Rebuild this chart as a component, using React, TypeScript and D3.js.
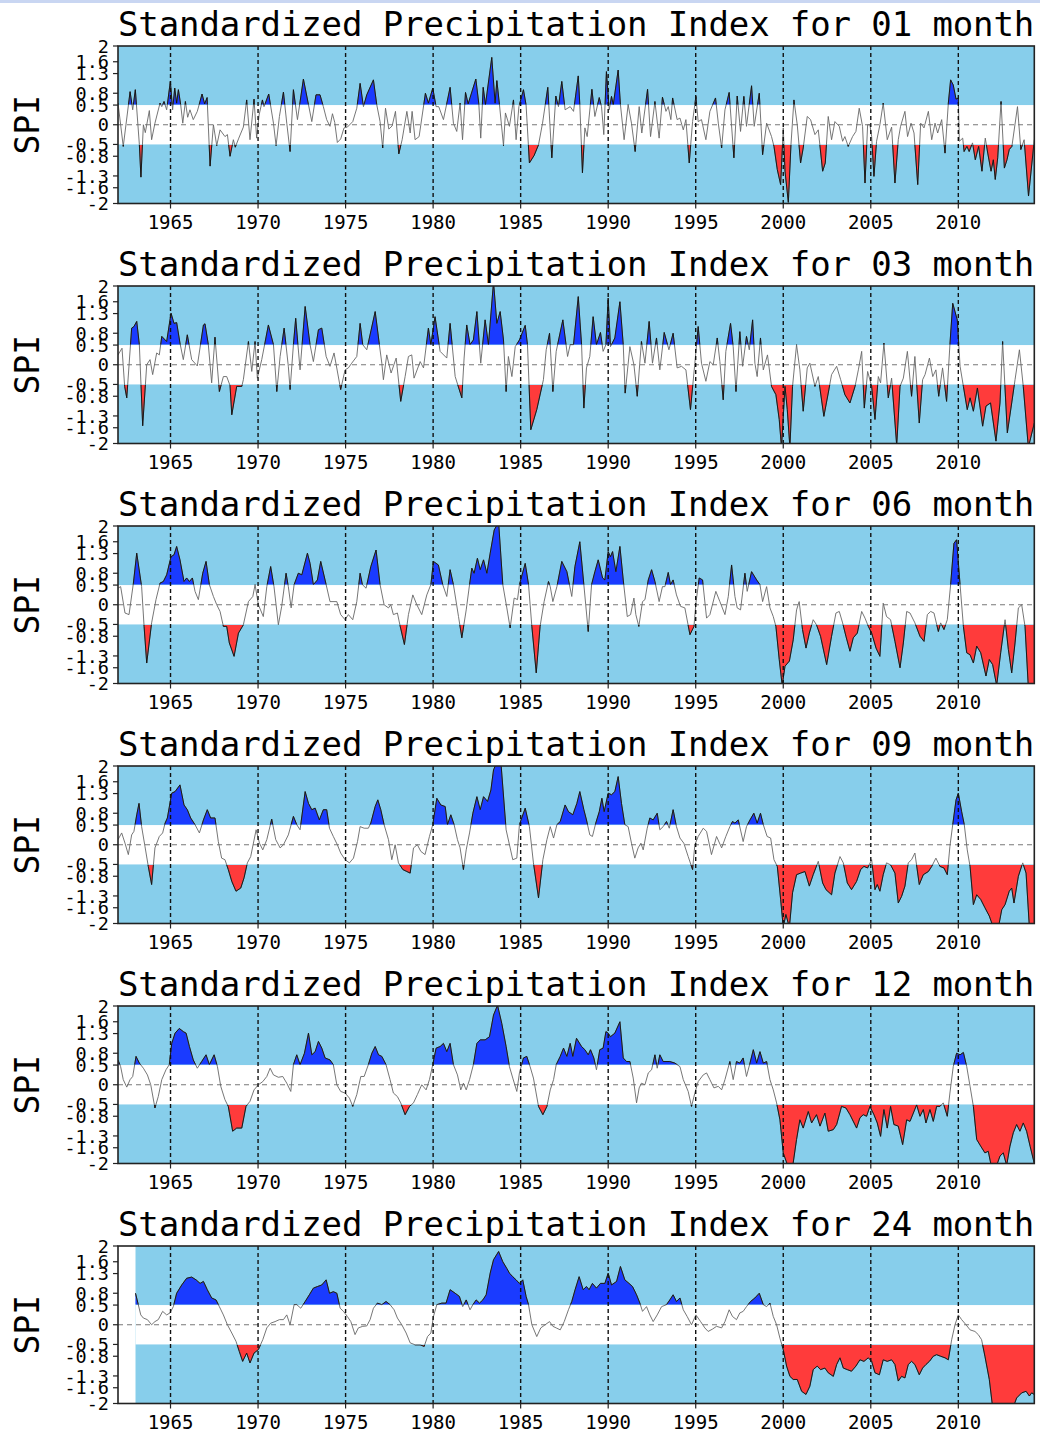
import React from "react";
import * as d3 from "d3";

// SPI timescales, one panel each
const timescales = ["01", "03", "06", "09", "12", "24"];
const yTicks = [2, 1.6, 1.3, 0.8, 0.5, 0, -0.5, -0.8, -1.3, -1.6, -2];
const xTicks = [1965, 1970, 1975, 1980, 1985, 1990, 1995, 2000, 2005, 2010];

type Pt = [number, number];

const spi01: Pt[] = [
  [1962.00,0.55],[1962.30,-0.55],[1962.69,0.84],[1962.84,0.38],[1962.99,0.89],[1963.22,-0.5],[1963.31,-1.33],[1963.45,0],[1963.56,-0.2],[1963.79,0.36],[1963.92,-0.38],[1964.11,0.04],[1964.40,0.55],[1964.50,0.46],[1964.63,0.59],[1964.78,0.38],[1964.99,1.1],[1965.12,0.38],[1965.24,0.93],[1965.35,0.55],[1965.45,0.89],[1965.58,0.51],[1965.70,0.04],[1965.85,0.59],[1965.98,0.19],[1966.11,0.38],[1966.30,0.13],[1966.53,0.34],[1966.80,0.78],[1966.95,0.53],[1967.09,0.69],[1967.26,-1.05],[1967.45,0],[1967.64,-0.53],[1967.83,-0.13],[1968.11,-0.3],[1968.25,-0.25],[1968.40,-0.8],[1968.59,-0.38],[1968.70,-0.57],[1968.90,-0.34],[1969.16,-0.06],[1969.35,0.63],[1969.54,-0.38],[1969.77,0.65],[1969.92,-0.34],[1970.06,0.25],[1970.25,0.63],[1970.34,0.46],[1970.61,0.78],[1970.88,0.04],[1971.03,-0.53],[1971.22,0.21],[1971.45,0.83],[1971.64,0.04],[1971.83,-0.68],[1972.02,0.89],[1972.25,0.13],[1972.59,1.16],[1972.88,0.51],[1973.07,0.08],[1973.31,0.76],[1973.54,0.76],[1973.73,0.46],[1973.92,0.13],[1974.11,-0.04],[1974.25,0.28],[1974.38,0.06],[1974.53,-0.45],[1974.72,-0.36],[1974.91,-0.08],[1975.10,-0.06],[1975.41,0.08],[1975.64,0.42],[1975.83,1.05],[1976.02,0.46],[1976.21,0.76],[1976.59,1.14],[1976.78,0.51],[1976.97,0.08],[1977.12,-0.59],[1977.28,0.42],[1977.47,-0.11],[1977.66,-0.03],[1977.85,0.34],[1978.04,-0.74],[1978.23,-0.38],[1978.50,0.34],[1978.69,-0.21],[1978.80,0.34],[1978.97,-0.38],[1979.20,-0.3],[1979.56,0.8],[1979.73,0.55],[1979.98,0.93],[1980.17,0.46],[1980.32,0.46],[1980.59,0.13],[1980.97,0.95],[1981.16,0.04],[1981.35,-0.17],[1981.54,0.55],[1981.68,-0.38],[1981.85,0.82],[1982.00,0.53],[1982.44,1.16],[1982.61,0.53],[1982.72,-0.34],[1982.86,0.95],[1982.99,0.51],[1983.35,1.71],[1983.54,0.55],[1983.64,1.12],[1983.79,0.51],[1984.02,-0.53],[1984.13,0.3],[1984.36,-0.04],[1984.59,0.63],[1984.74,-0.38],[1984.90,0.46],[1985.16,0.89],[1985.31,0.5],[1985.50,-0.97],[1985.77,-0.78],[1986.02,-0.51],[1986.25,0.04],[1986.55,0.95],[1986.78,-0.84],[1987.01,0.73],[1987.16,0.46],[1987.35,1.1],[1987.54,0.38],[1987.83,0.46],[1988.02,0.34],[1988.29,1.24],[1988.38,0.51],[1988.53,-1.22],[1988.67,-0.08],[1988.80,-0.3],[1989.07,0.9],[1989.24,0.21],[1989.49,0.69],[1989.62,0.46],[1989.75,-0.25],[1989.90,1.35],[1990.06,0.38],[1990.19,0.72],[1990.29,0.51],[1990.57,1.39],[1990.70,0.51],[1990.91,-0.38],[1991.14,0.51],[1991.33,0.04],[1991.54,-0.68],[1991.77,0.46],[1991.92,-0.21],[1992.25,0.9],[1992.42,-0.3],[1992.67,0.59],[1992.91,-0.34],[1993.10,0.7],[1993.30,0.34],[1993.43,0.46],[1993.58,0.13],[1993.68,0.68],[1993.94,0.13],[1994.10,0.17],[1994.29,-0.13],[1994.44,0.13],[1994.63,-0.97],[1994.82,0.08],[1995.01,0.72],[1995.14,0.08],[1995.33,0.13],[1995.58,-0.38],[1995.81,0.34],[1996.13,0.68],[1996.29,0.04],[1996.48,-0.59],[1996.67,0.38],[1996.91,0.82],[1997.18,-0.84],[1997.37,0.73],[1997.56,-0.17],[1997.75,0.72],[1997.90,-0.04],[1998.19,0.99],[1998.34,-0.04],[1998.63,0.8],[1998.82,-0.76],[1999.05,0.04],[1999.33,-0.3],[1999.47,-0.55],[1999.66,-1.14],[1999.85,-1.52],[2000.00,-0.08],[2000.10,-1.18],[2000.29,-1.97],[2000.44,-0.51],[2000.61,0.63],[2000.80,0],[2000.99,-0.97],[2001.14,-0.59],[2001.37,0.21],[2001.56,0.13],[2001.81,-0.25],[2002.00,-0.13],[2002.25,-1.18],[2002.40,-0.97],[2002.57,0.21],[2002.76,-0.38],[2002.95,0.08],[2003.20,-0.04],[2003.39,-0.42],[2003.52,-0.3],[2003.71,-0.55],[2003.96,-0.3],[2004.15,-0.17],[2004.34,0.42],[2004.53,-0.04],[2004.67,-1.48],[2004.82,0],[2004.95,0],[2005.05,-0.3],[2005.18,-1.31],[2005.33,-0.42],[2005.52,0],[2005.71,0.55],[2005.94,-0.38],[2006.19,-0.06],[2006.38,-1.48],[2006.57,-0.38],[2006.70,-0.04],[2006.95,0.34],[2007.10,-0.3],[2007.30,0.04],[2007.47,-0.21],[2007.68,-1.52],[2007.85,0.04],[2008.04,-0.08],[2008.29,0.34],[2008.48,-0.38],[2008.67,0.04],[2008.82,-0.21],[2009.05,0.13],[2009.24,-0.72],[2009.43,0.55],[2009.56,1.14],[2009.71,1.01],[2009.87,0.65],[2010.00,0.68],[2010.06,-0.42],[2010.25,-0.34],[2010.33,-0.68],[2010.49,-0.55],[2010.62,-0.68],[2010.81,-0.46],[2010.97,-0.89],[2011.16,-0.55],[2011.35,-1.18],[2011.54,-0.34],[2011.68,-0.72],[2011.87,-1.18],[2012.00,-0.89],[2012.11,-1.39],[2012.25,-0.84],[2012.44,0.59],[2012.63,-1.1],[2012.78,-0.89],[2012.91,-0.63],[2013.06,-0.55],[2013.38,0.46],[2013.57,-0.63],[2013.76,-0.38],[2014.01,-1.81],[2014.34,-0.38],
];

const spi03: Pt[] = [
  [1962.00,0.25],[1962.23,0.42],[1962.38,-0.55],[1962.50,-0.84],[1962.78,0.93],[1962.91,0.97],[1963.07,1.1],[1963.22,0.51],[1963.41,-1.55],[1963.64,0],[1963.83,0.13],[1963.98,-0.25],[1964.21,0.3],[1964.36,0.25],[1964.50,0.72],[1964.78,0.59],[1965.03,1.31],[1965.20,1.05],[1965.35,1.07],[1965.54,0.55],[1965.73,0.13],[1965.96,0.76],[1966.21,0.13],[1966.53,-0.03],[1966.88,1.01],[1966.97,1.04],[1967.16,0.51],[1967.35,-0.46],[1967.54,0.7],[1967.79,-0.68],[1968.02,-0.3],[1968.21,-0.3],[1968.40,-0.53],[1968.50,-1.27],[1968.78,-0.55],[1969.07,-0.55],[1969.16,-0.38],[1969.45,0.59],[1969.64,-0.17],[1969.83,0.59],[1969.96,-0.34],[1970.21,0.13],[1970.59,1.01],[1970.88,0.51],[1971.07,-0.68],[1971.26,0.21],[1971.49,0.93],[1971.73,-0.04],[1971.83,-0.63],[1972.02,0.51],[1972.15,1.18],[1972.40,-0.13],[1972.69,1.48],[1972.97,0.51],[1973.16,0.08],[1973.45,0.89],[1973.64,0.93],[1973.89,0.21],[1974.11,-0.04],[1974.34,0.3],[1974.72,-0.63],[1974.97,-0.13],[1975.16,-0.08],[1975.35,0.04],[1975.64,0.21],[1975.83,1.05],[1975.98,0.51],[1976.21,0.38],[1976.69,1.35],[1976.93,0.51],[1977.07,0.04],[1977.16,-0.38],[1977.35,0.25],[1977.60,-0.21],[1977.89,0.17],[1978.15,-0.93],[1978.40,-0.3],[1978.59,0.21],[1978.78,0.25],[1978.91,-0.34],[1979.26,0.08],[1979.45,-0.08],[1979.73,0.93],[1979.87,0.51],[1980.11,1.22],[1980.40,0.34],[1980.78,0.17],[1980.97,1.05],[1981.26,-0.3],[1981.64,-0.84],[1981.77,0.17],[1981.92,1.01],[1982.11,0.51],[1982.30,0.63],[1982.50,1.35],[1982.72,0.04],[1982.97,1.14],[1983.16,0.51],[1983.45,2.1],[1983.64,1.05],[1983.83,1.35],[1984.02,0.63],[1984.17,-0.68],[1984.30,0.21],[1984.50,-0.3],[1984.69,0.46],[1984.93,0.63],[1985.26,1.0],[1985.39,0.51],[1985.58,-1.65],[1985.92,-1.14],[1986.30,-0.38],[1986.46,0.38],[1986.65,0.8],[1986.84,-0.68],[1987.03,0.34],[1987.41,1.14],[1987.68,0.21],[1987.83,0.51],[1988.02,0.51],[1988.29,1.73],[1988.48,0.51],[1988.61,-1.1],[1988.76,-0.08],[1988.95,0.21],[1989.14,1.22],[1989.33,0.51],[1989.56,0.82],[1989.71,0.34],[1989.87,0.51],[1990.00,1.69],[1990.13,0.46],[1990.38,0.68],[1990.67,1.6],[1990.86,0.51],[1990.97,-0.72],[1991.24,0.46],[1991.47,0],[1991.66,-0.8],[1991.90,0.59],[1992.10,0.04],[1992.34,1.1],[1992.53,0.04],[1992.76,0.68],[1992.95,-0.13],[1993.20,0.82],[1993.47,0.38],[1993.71,0.8],[1993.94,-0.08],[1994.19,-0.04],[1994.44,-0.13],[1994.70,-1.14],[1994.95,0.04],[1995.14,0.97],[1995.33,0.04],[1995.58,-0.42],[1995.81,0.08],[1996.00,0],[1996.23,0.68],[1996.38,0.08],[1996.57,-0.89],[1996.72,0.34],[1996.99,1.05],[1997.14,0.46],[1997.30,-0.68],[1997.52,0.84],[1997.68,-0.04],[1997.90,0.72],[1998.06,0.38],[1998.25,1.14],[1998.38,0.04],[1998.51,-0.3],[1998.70,0.68],[1998.86,-0.13],[1999.10,0.25],[1999.33,-0.55],[1999.58,-0.76],[1999.77,-1.39],[1999.90,-2.1],[2000.10,-0.55],[2000.23,-1.14],[2000.38,-2.1],[2000.53,-0.55],[2000.76,0.51],[2000.95,-0.13],[2001.14,-1.18],[2001.37,-0.08],[2001.52,0.04],[2001.81,-0.55],[2002.00,-0.3],[2002.32,-1.31],[2002.57,-0.72],[2002.76,-0.25],[2003.05,-0.04],[2003.28,-0.38],[2003.52,-0.76],[2003.81,-0.97],[2004.10,-0.55],[2004.29,-0.13],[2004.48,0.34],[2004.63,-1.1],[2004.82,-0.17],[2005.05,-0.55],[2005.24,-1.39],[2005.43,-0.3],[2005.56,-0.46],[2005.75,0.55],[2006.00,-0.84],[2006.19,-0.34],[2006.48,-2.05],[2006.67,-0.55],[2006.86,-0.34],[2007.09,0.34],[2007.33,-0.8],[2007.52,0.21],[2007.77,-1.48],[2007.96,-0.38],[2008.10,-0.25],[2008.35,0.17],[2008.54,-0.3],[2008.72,-0.13],[2008.88,-0.8],[2009.10,-0.08],[2009.33,-0.93],[2009.52,0.51],[2009.68,1.56],[2009.94,1.14],[2010.10,-0.04],[2010.29,-0.55],[2010.51,-1.14],[2010.67,-0.84],[2010.86,-1.18],[2011.09,-0.59],[2011.39,-1.56],[2011.58,-1.05],[2011.84,-0.97],[2012.15,-1.94],[2012.38,-0.97],[2012.53,0.59],[2012.80,-1.73],[2013.05,-0.97],[2013.24,-0.38],[2013.49,0.38],[2013.71,-0.55],[2014.00,-2.1],[2014.34,-1.48],
];

const spi06: Pt[] = [
  [1962.00,0.42],[1962.15,0.46],[1962.40,-0.21],[1962.63,-0.25],[1962.88,0.55],[1963.07,1.31],[1963.35,0.46],[1963.49,-0.55],[1963.64,-1.48],[1963.92,-0.46],[1964.17,0.13],[1964.40,0.55],[1964.59,0.59],[1964.78,0.76],[1965.03,1.22],[1965.20,1.27],[1965.35,1.48],[1965.54,1.14],[1965.77,0.59],[1965.92,0.68],[1966.08,0.59],[1966.25,0.68],[1966.40,0.34],[1966.59,0.13],[1966.84,0.8],[1967.03,1.1],[1967.22,0.51],[1967.45,0.21],[1967.64,0],[1967.83,-0.17],[1968.02,-0.55],[1968.21,-0.55],[1968.36,-0.97],[1968.63,-1.31],[1968.88,-0.72],[1969.16,-0.51],[1969.45,0.08],[1969.70,0.21],[1969.83,0.51],[1970.02,0],[1970.30,-0.3],[1970.50,0.46],[1970.72,0.97],[1970.91,0.46],[1971.16,-0.51],[1971.35,-0.04],[1971.60,0.8],[1971.73,0.46],[1971.89,-0.08],[1972.06,0.51],[1972.30,0.8],[1972.50,0.76],[1972.82,1.31],[1972.97,1.05],[1973.16,0.51],[1973.39,0.63],[1973.58,1.1],[1973.89,0.51],[1974.11,0.08],[1974.50,0.08],[1974.72,-0.25],[1974.97,-0.38],[1975.16,-0.25],[1975.41,-0.38],[1975.64,0.08],[1975.83,0.8],[1975.96,0.51],[1976.17,0.42],[1976.44,0.97],[1976.74,1.39],[1976.97,0.51],[1977.20,0],[1977.45,-0.08],[1977.58,0],[1977.73,-0.25],[1977.96,-0.21],[1978.11,-0.53],[1978.36,-1.01],[1978.59,-0.25],[1978.84,0.25],[1979.07,0],[1979.35,-0.25],[1979.64,0.25],[1979.87,0.51],[1980.02,1.1],[1980.30,1.01],[1980.55,0.51],[1980.78,0.21],[1980.97,0.89],[1981.16,0.51],[1981.45,-0.3],[1981.64,-0.84],[1981.89,-0.13],[1982.08,0.51],[1982.21,0.93],[1982.34,0.8],[1982.53,1.18],[1982.69,0.89],[1982.88,1.14],[1983.07,0.8],[1983.26,1.31],[1983.49,1.9],[1983.74,2.1],[1983.98,0.51],[1984.21,-0.08],[1984.40,-0.59],[1984.63,0.17],[1984.82,0.13],[1984.93,0.51],[1985.26,1.05],[1985.45,0.51],[1985.64,-0.55],[1985.89,-1.73],[1986.11,-0.55],[1986.34,0.08],[1986.59,0.59],[1986.69,0.46],[1986.84,0.08],[1987.07,0.46],[1987.35,1.1],[1987.64,0.84],[1987.92,0.21],[1988.10,0.97],[1988.38,1.6],[1988.61,0.51],[1988.86,-0.68],[1989.05,0.51],[1989.24,0.84],[1989.43,1.14],[1989.68,0.68],[1989.81,0.63],[1990.00,1.35],[1990.13,1.22],[1990.25,1.35],[1990.44,0.84],[1990.67,1.48],[1990.86,0.63],[1991.09,-0.3],[1991.28,-0.25],[1991.47,0.17],[1991.58,-0.25],[1991.75,-0.55],[1991.96,0.08],[1992.10,0.13],[1992.29,0.63],[1992.48,0.89],[1992.67,0.59],[1992.91,0.08],[1993.10,0.46],[1993.24,0.46],[1993.43,0.82],[1993.56,0.51],[1993.71,0.63],[1993.90,0.25],[1994.13,-0.04],[1994.38,-0.08],[1994.67,-0.76],[1994.90,-0.55],[1995.01,0.04],[1995.20,0.68],[1995.39,0.63],[1995.62,-0.34],[1995.81,-0.25],[1996.15,0.34],[1996.38,0.08],[1996.67,-0.25],[1996.86,0.21],[1997.05,1.01],[1997.24,0.21],[1997.37,-0.08],[1997.56,-0.13],[1997.81,0.8],[1997.94,0.34],[1998.19,0.84],[1998.48,0.63],[1998.67,0.51],[1998.82,0.08],[1999.05,0.46],[1999.24,-0.08],[1999.43,-0.3],[1999.58,-0.55],[1999.77,-1.39],[1999.94,-2.05],[2000.10,-1.56],[2000.35,-1.43],[2000.57,-0.89],[2000.76,-0.13],[2000.91,0.08],[2001.10,-0.63],[2001.30,-1.1],[2001.49,-0.72],[2001.71,-0.38],[2001.90,-0.51],[2002.13,-0.8],[2002.48,-1.52],[2002.76,-0.8],[2003.01,-0.21],[2003.20,-0.17],[2003.39,-0.46],[2003.58,-0.8],[2003.81,-1.18],[2004.00,-0.84],[2004.23,-0.72],[2004.48,-0.17],[2004.67,-0.34],[2004.86,-0.55],[2005.05,-0.72],[2005.30,-1.1],[2005.52,-1.31],[2005.71,0.04],[2005.90,-0.3],[2006.13,-0.38],[2006.38,-0.93],[2006.67,-1.6],[2006.86,-0.97],[2007.05,-0.17],[2007.24,-0.21],[2007.52,-0.46],[2007.81,-0.8],[2008.04,-0.93],[2008.23,-0.25],[2008.42,-0.17],[2008.61,-0.21],[2008.86,-0.68],[2008.99,-0.46],[2009.18,-0.63],[2009.37,-0.38],[2009.56,0.51],[2009.75,1.56],[2009.90,1.65],[2010.10,0.51],[2010.29,-0.55],[2010.48,-1.22],[2010.67,-1.27],[2010.86,-1.48],[2011.05,-1.05],[2011.28,-1.22],[2011.58,-1.81],[2011.77,-1.39],[2011.96,-1.52],[2012.19,-2.05],[2012.42,-1.22],[2012.67,-0.38],[2012.86,-1.14],[2013.05,-1.73],[2013.24,-0.97],[2013.43,-0.08],[2013.62,0],[2013.81,-0.55],[2014.00,-2.1],[2014.34,-2.1],
];

const spi09: Pt[] = [
  [1962.00,0.13],[1962.21,0.3],[1962.40,0.04],[1962.59,-0.25],[1962.78,0.25],[1962.91,0.34],[1963.07,0.76],[1963.20,1.05],[1963.35,0.46],[1963.54,-0.04],[1963.73,-0.55],[1963.92,-1.01],[1964.11,-0.08],[1964.36,0.21],[1964.55,0.3],[1964.69,0.55],[1964.82,0.68],[1965.07,1.31],[1965.26,1.35],[1965.54,1.52],[1965.77,1.01],[1965.96,0.89],[1966.15,0.68],[1966.40,0.51],[1966.65,0.3],[1966.88,0.63],[1967.10,0.89],[1967.29,0.68],[1967.54,0.68],[1967.73,0.08],[1967.92,-0.34],[1968.11,-0.38],[1968.30,-0.63],[1968.50,-0.93],[1968.74,-1.18],[1969.01,-1.1],[1969.20,-0.84],[1969.39,-0.46],[1969.58,-0.3],[1969.89,0.38],[1970.08,0.04],[1970.27,-0.13],[1970.50,0.13],[1970.78,0.65],[1971.01,0.13],[1971.26,-0.08],[1971.45,0],[1971.73,0.25],[1972.02,0.72],[1972.21,0.51],[1972.40,0.38],[1972.69,1.35],[1972.88,1.05],[1973.07,0.89],[1973.26,0.93],[1973.50,0.63],[1973.73,0.89],[1973.92,0.89],[1974.08,0.42],[1974.30,0.21],[1974.53,0],[1974.72,-0.21],[1974.97,-0.38],[1975.22,-0.46],[1975.45,-0.34],[1975.68,0.08],[1975.83,0.46],[1976.06,0.42],[1976.30,0.42],[1976.44,0.55],[1976.69,0.97],[1976.84,1.14],[1977.01,0.89],[1977.20,0.51],[1977.45,0.13],[1977.64,-0.38],[1977.83,0],[1978.02,-0.46],[1978.27,-0.63],[1978.50,-0.68],[1978.69,-0.72],[1978.88,-0.08],[1979.10,0],[1979.30,-0.17],[1979.54,-0.25],[1979.79,0.21],[1979.98,0.51],[1980.21,1.18],[1980.44,1.01],[1980.69,0.97],[1980.82,0.51],[1981.01,0.76],[1981.20,0.51],[1981.39,0.13],[1981.54,-0.08],[1981.73,-0.63],[1981.89,-0.13],[1982.08,0.3],[1982.27,0.8],[1982.50,1.22],[1982.69,0.89],[1982.88,1.22],[1983.11,1.1],[1983.30,1.39],[1983.45,1.9],[1983.64,2.1],[1983.87,2.1],[1984.17,0.38],[1984.36,0],[1984.55,-0.38],[1984.78,-0.34],[1984.93,0.51],[1985.26,0.93],[1985.50,0.46],[1985.73,-0.46],[1986.02,-1.35],[1986.27,-0.38],[1986.50,0.13],[1986.69,0.46],[1986.88,0.17],[1987.07,0.51],[1987.26,0.59],[1987.54,1.01],[1987.73,0.84],[1987.98,0.76],[1988.21,1.05],[1988.38,1.35],[1988.61,0.89],[1988.76,0.63],[1988.95,0.25],[1989.10,0.21],[1989.29,0.55],[1989.49,0.84],[1989.64,1.18],[1989.77,0.84],[1990.00,1.31],[1990.19,1.27],[1990.38,1.35],[1990.57,1.73],[1990.76,1.05],[1990.95,0.51],[1991.14,0.46],[1991.33,0.04],[1991.52,-0.34],[1991.71,-0.08],[1991.87,0.04],[1992.00,-0.13],[1992.23,0.42],[1992.38,0.68],[1992.57,0.63],[1992.80,0.8],[1992.95,0.38],[1993.14,0.46],[1993.33,0.59],[1993.49,0.42],[1993.71,0.89],[1993.90,0.46],[1994.10,0.17],[1994.32,0.04],[1994.57,-0.3],[1994.82,-0.63],[1994.95,0],[1995.14,0.21],[1995.43,0.42],[1995.62,0.34],[1995.90,-0.25],[1996.19,0.21],[1996.48,-0.08],[1996.72,0.21],[1996.95,0.46],[1997.10,0.59],[1997.24,0.55],[1997.43,0.63],[1997.71,0.08],[1997.90,0.46],[1998.10,0.63],[1998.32,0.8],[1998.51,0.55],[1998.70,0.8],[1998.86,0.51],[1999.08,0.21],[1999.28,0.17],[1999.47,-0.38],[1999.66,-0.55],[1999.85,-1.39],[2000.00,-2.1],[2000.15,-1.77],[2000.35,-2.1],[2000.53,-1.22],[2000.76,-0.76],[2000.99,-0.72],[2001.24,-0.68],[2001.49,-1.05],[2001.71,-0.76],[2002.00,-0.42],[2002.25,-0.97],[2002.44,-1.14],[2002.76,-1.27],[2002.95,-0.72],[2003.24,-0.3],[2003.43,-0.46],[2003.66,-0.97],[2003.90,-1.14],[2004.19,-0.93],[2004.42,-0.63],[2004.61,-0.55],[2004.82,-0.59],[2005.05,-0.38],[2005.24,-1.14],[2005.37,-1.01],[2005.52,-1.18],[2005.71,-0.76],[2005.90,-0.46],[2006.13,-0.51],[2006.38,-0.72],[2006.57,-1.48],[2006.76,-1.31],[2006.95,-1.05],[2007.14,-0.46],[2007.33,-0.38],[2007.52,-0.21],[2007.77,-1.01],[2008.00,-0.76],[2008.29,-0.68],[2008.48,-0.55],[2008.72,-0.34],[2008.95,-0.55],[2009.18,-0.59],[2009.37,-0.76],[2009.52,-0.04],[2009.68,0.51],[2009.87,1.14],[2010.00,1.31],[2010.19,0.84],[2010.34,0.51],[2010.51,-0.13],[2010.67,-0.55],[2010.86,-1.52],[2011.05,-1.27],[2011.28,-1.39],[2011.52,-1.6],[2011.77,-1.81],[2012.00,-2.1],[2012.29,-2.1],[2012.48,-1.65],[2012.67,-1.52],[2012.91,-1.18],[2013.05,-1.1],[2013.18,-1.48],[2013.43,-0.8],[2013.68,-0.46],[2013.87,-0.72],[2014.06,-2.1],[2014.34,-2.1],
];

const spi12: Pt[] = [
  [1962.00,0.63],[1962.15,0.46],[1962.30,0.13],[1962.50,-0.06],[1962.69,0.13],[1962.84,0.21],[1963.03,0.72],[1963.22,0.55],[1963.45,0.42],[1963.68,0.25],[1963.87,0],[1964.11,-0.59],[1964.30,-0.3],[1964.50,0.13],[1964.74,0.38],[1964.93,0.51],[1965.07,1.05],[1965.26,1.31],[1965.50,1.43],[1965.73,1.35],[1965.89,1.31],[1966.08,0.97],[1966.30,0.63],[1966.53,0.42],[1966.78,0.59],[1967.03,0.76],[1967.22,0.51],[1967.49,0.76],[1967.68,0.46],[1967.87,-0.04],[1968.11,-0.38],[1968.30,-0.55],[1968.55,-1.18],[1968.78,-1.1],[1969.07,-1.1],[1969.31,-0.55],[1969.54,-0.42],[1969.77,-0.13],[1970.02,0],[1970.27,0.08],[1970.50,0.21],[1970.69,0.42],[1970.88,0.25],[1971.16,0.19],[1971.41,0.21],[1971.64,0.04],[1971.87,-0.17],[1972.02,0.51],[1972.21,0.76],[1972.40,0.51],[1972.65,0.8],[1972.88,1.31],[1973.07,0.76],[1973.26,0.84],[1973.45,1.1],[1973.64,0.93],[1973.83,0.68],[1974.11,0.63],[1974.30,0.51],[1974.50,0],[1974.72,-0.17],[1974.97,-0.21],[1975.22,-0.34],[1975.41,-0.55],[1975.64,-0.25],[1975.87,0.21],[1976.06,0.21],[1976.30,0.51],[1976.50,0.8],[1976.69,0.97],[1976.88,0.76],[1977.07,0.72],[1977.31,0.51],[1977.54,0.13],[1977.73,-0.21],[1977.96,-0.3],[1978.15,-0.46],[1978.40,-0.76],[1978.65,-0.55],[1978.88,-0.46],[1979.10,-0.25],[1979.35,0],[1979.60,-0.13],[1979.79,0.13],[1979.98,0.51],[1980.17,0.93],[1980.40,0.97],[1980.59,1.05],[1980.78,0.84],[1980.97,1.05],[1981.16,0.51],[1981.39,0.25],[1981.58,-0.13],[1981.73,0.04],[1981.89,-0.13],[1982.08,0.13],[1982.30,0.51],[1982.50,1.05],[1982.69,1.14],[1982.97,1.14],[1983.22,1.22],[1983.45,1.77],[1983.68,2.02],[1983.92,1.56],[1984.17,0.97],[1984.36,0.46],[1984.55,0.17],[1984.78,-0.17],[1984.93,0.3],[1985.16,0.68],[1985.35,0.72],[1985.54,0.46],[1985.73,0.17],[1986.02,-0.55],[1986.27,-0.76],[1986.50,-0.55],[1986.69,-0.13],[1986.88,0.13],[1987.03,0.51],[1987.26,0.72],[1987.45,0.93],[1987.64,0.72],[1987.83,1.05],[1987.98,0.72],[1988.19,1.18],[1988.48,0.97],[1988.67,0.89],[1988.86,0.76],[1988.99,0.89],[1989.18,0.68],[1989.33,0.38],[1989.52,0.89],[1989.71,0.93],[1989.87,1.35],[1990.00,1.31],[1990.13,1.22],[1990.38,1.31],[1990.67,1.6],[1990.86,0.68],[1991.05,0.59],[1991.24,0.59],[1991.43,0.17],[1991.62,-0.46],[1991.77,-0.08],[1991.90,0.04],[1992.10,0],[1992.29,0.3],[1992.48,0.38],[1992.67,0.76],[1992.80,0.42],[1992.95,0.76],[1993.14,0.59],[1993.52,0.59],[1993.81,0.55],[1994.10,0.46],[1994.29,0.13],[1994.57,-0.17],[1994.76,-0.55],[1994.95,-0.21],[1995.14,0.08],[1995.43,0.25],[1995.62,0.3],[1995.81,0.13],[1996.04,-0.08],[1996.29,-0.04],[1996.48,-0.13],[1996.67,0.13],[1996.95,0.59],[1997.14,0.13],[1997.33,0.59],[1997.52,0.55],[1997.71,0.68],[1997.90,0.21],[1998.10,0.55],[1998.29,0.89],[1998.48,0.55],[1998.67,0.84],[1998.86,0.55],[1999.05,0.59],[1999.24,0.13],[1999.43,-0.13],[1999.62,-0.46],[1999.81,-0.89],[2000.00,-1.73],[2000.29,-2.1],[2000.53,-2.1],[2000.76,-1.39],[2000.95,-0.89],[2001.14,-1.1],[2001.43,-0.68],[2001.62,-0.97],[2001.90,-0.76],[2002.10,-1.05],[2002.38,-0.72],[2002.57,-1.18],[2002.86,-1.14],[2003.05,-1.01],[2003.33,-0.55],[2003.58,-0.59],[2003.81,-0.76],[2004.19,-1.1],[2004.38,-0.84],[2004.57,-0.76],[2004.76,-0.8],[2004.95,-0.55],[2005.18,-0.76],[2005.37,-0.97],[2005.56,-1.31],[2005.75,-0.63],[2005.94,-1.1],[2006.13,-0.55],[2006.32,-1.01],[2006.57,-1.05],[2006.82,-1.52],[2007.05,-0.89],[2007.24,-0.93],[2007.43,-0.72],[2007.62,-0.51],[2007.81,-0.8],[2008.00,-0.63],[2008.15,-0.97],[2008.38,-0.63],[2008.57,-0.93],[2008.76,-0.55],[2008.95,-0.55],[2009.14,-0.46],[2009.37,-0.8],[2009.52,-0.21],[2009.71,0.46],[2009.90,0.8],[2010.10,0.76],[2010.29,0.82],[2010.48,0.46],[2010.67,-0.04],[2010.86,-0.55],[2011.05,-1.39],[2011.28,-1.56],[2011.52,-1.73],[2011.71,-1.69],[2011.90,-2.1],[2012.15,-2.1],[2012.38,-1.81],[2012.57,-1.73],[2012.76,-2.05],[2012.95,-1.56],[2013.14,-1.22],[2013.33,-1.01],[2013.52,-1.18],[2013.71,-0.97],[2013.90,-1.18],[2014.10,-1.56],[2014.34,-2.0],
];

const spi24: Pt[] = [
  [1963.00,0.8],[1963.16,0.51],[1963.30,0.25],[1963.45,0.17],[1963.68,0.13],[1963.92,0],[1964.11,0.08],[1964.30,0.13],[1964.55,0.34],[1964.78,0.25],[1964.97,0.3],[1965.16,0.46],[1965.35,0.8],[1965.64,1.01],[1965.92,1.18],[1966.21,1.21],[1966.46,1.14],[1966.69,1.05],[1966.88,1.1],[1967.10,0.89],[1967.35,0.68],[1967.60,0.63],[1967.79,0.46],[1968.02,0.25],[1968.25,0],[1968.50,-0.21],[1968.74,-0.42],[1968.93,-0.68],[1969.12,-0.93],[1969.35,-0.72],[1969.54,-0.97],[1969.77,-0.72],[1970.02,-0.63],[1970.27,-0.38],[1970.50,-0.08],[1970.72,0.04],[1970.97,0.08],[1971.22,0.13],[1971.45,0.13],[1971.64,0.25],[1971.83,0],[1972.06,0.51],[1972.21,0.51],[1972.44,0.42],[1972.69,0.59],[1972.93,0.76],[1973.16,0.93],[1973.39,0.97],[1973.64,1.01],[1973.89,1.14],[1974.08,0.8],[1974.30,0.84],[1974.50,0.8],[1974.69,0.42],[1974.88,0.34],[1975.10,0.21],[1975.30,0.08],[1975.54,-0.25],[1975.73,-0.08],[1975.98,-0.04],[1976.21,-0.03],[1976.40,0.13],[1976.59,0.42],[1976.82,0.55],[1977.07,0.51],[1977.31,0.59],[1977.54,0.51],[1977.77,0.38],[1977.96,0.17],[1978.21,0],[1978.46,-0.21],[1978.69,-0.46],[1978.97,-0.51],[1979.26,-0.51],[1979.49,-0.55],[1979.68,-0.3],[1979.87,-0.21],[1980.02,0.21],[1980.21,0.51],[1980.50,0.55],[1980.74,0.55],[1980.97,0.89],[1981.26,0.8],[1981.50,0.72],[1981.69,0.46],[1981.89,0.63],[1982.11,0.38],[1982.27,0.51],[1982.46,0.63],[1982.65,0.55],[1982.84,0.63],[1983.03,0.76],[1983.26,1.31],[1983.45,1.65],[1983.74,1.86],[1983.98,1.6],[1984.21,1.43],[1984.36,1.31],[1984.55,1.22],[1984.74,1.14],[1984.93,1.05],[1985.12,1.14],[1985.31,0.72],[1985.45,0.51],[1985.64,0],[1985.92,-0.3],[1986.15,-0.08],[1986.40,0],[1986.65,0.08],[1986.84,-0.04],[1987.03,-0.08],[1987.26,-0.13],[1987.49,0.08],[1987.73,0.38],[1987.92,0.59],[1988.11,0.89],[1988.34,1.22],[1988.57,0.89],[1988.76,0.97],[1988.91,0.89],[1989.10,1.05],[1989.33,0.93],[1989.56,1.05],[1989.81,1.05],[1990.00,1.31],[1990.19,1.01],[1990.48,1.1],[1990.70,1.48],[1990.95,1.14],[1991.19,1.05],[1991.39,0.97],[1991.62,0.76],[1991.81,0.55],[1991.96,0.34],[1992.19,0.46],[1992.38,0.25],[1992.57,0.08],[1992.80,0.25],[1993.05,0.46],[1993.33,0.51],[1993.52,0.63],[1993.71,0.76],[1993.90,0.59],[1994.10,0.68],[1994.29,0.38],[1994.51,0.21],[1994.76,0],[1995.01,0.25],[1995.28,0.08],[1995.52,-0.08],[1995.71,-0.17],[1995.96,-0.11],[1996.19,-0.04],[1996.48,-0.08],[1996.67,0.08],[1996.91,0.38],[1997.10,0.21],[1997.33,0.13],[1997.52,0.3],[1997.71,0.34],[1997.90,0.46],[1998.13,0.59],[1998.38,0.68],[1998.63,0.8],[1998.86,0.51],[1999.05,0.46],[1999.24,0.55],[1999.43,0.21],[1999.62,0],[1999.81,-0.34],[2000.00,-0.63],[2000.19,-1.05],[2000.38,-1.31],[2000.57,-1.39],[2000.80,-1.39],[2001.05,-1.69],[2001.30,-1.77],[2001.52,-1.56],[2001.71,-1.14],[2001.94,-1.05],[2002.13,-1.14],[2002.38,-1.1],[2002.57,-1.22],[2002.86,-1.31],[2003.05,-1.01],[2003.24,-0.84],[2003.43,-1.1],[2003.66,-1.14],[2003.90,-1.18],[2004.15,-1.05],[2004.38,-0.89],[2004.61,-0.93],[2004.86,-0.84],[2005.05,-0.93],[2005.24,-1.22],[2005.49,-1.27],[2005.71,-0.89],[2005.94,-0.93],[2006.19,-0.89],[2006.38,-1.01],[2006.57,-1.43],[2006.76,-1.31],[2006.95,-1.35],[2007.14,-1.01],[2007.33,-0.93],[2007.52,-1.01],[2007.77,-1.27],[2007.96,-1.1],[2008.15,-1.01],[2008.35,-0.93],[2008.57,-0.8],[2008.76,-0.76],[2008.99,-0.8],[2009.24,-0.84],[2009.43,-0.89],[2009.62,-0.38],[2009.81,0],[2010.00,0.25],[2010.19,0.13],[2010.44,0],[2010.67,-0.13],[2010.95,-0.17],[2011.14,-0.25],[2011.33,-0.38],[2011.52,-0.8],[2011.77,-1.39],[2011.96,-2.1],[2012.19,-2.2],[2012.48,-2.2],[2012.76,-2.2],[2013.05,-2.2],[2013.33,-1.86],[2013.62,-1.73],[2013.87,-1.69],[2014.06,-1.81],[2014.19,-1.73],[2014.34,-1.77],
];

const allSeries = [spi01, spi03, spi06, spi09, spi12, spi24];

const FONT = "'DejaVu Sans Mono', monospace";
const LEFT = 118;
const RIGHT = 1034.3;
const TOP = 46;
const PLOT_H = 157.5;
const PITCH = 240;

const x = d3.scaleLinear().domain([1962, 2014.34]).range([LEFT, RIGHT]);
const y = d3.scaleLinear().domain([-2, 2]).range([PLOT_H, 0]);

function Panel({ idx, data, scale }: { idx: number; data: Pt[]; scale: string }) {
  const top = TOP + idx * PITCH;
  const xa = x(data[0][0]);
  const xb = x(data[data.length - 1][0]);
  const line = d3.line<Pt>().x((d) => x(d[0])).y((d) => y(d[1]))(data) || "";
  const hi = d3.area<Pt>().x((d) => x(d[0])).y0(y(0.5)).y1((d) => y(d[1]))(data) || "";
  const lo = d3.area<Pt>().x((d) => x(d[0])).y0(y(-0.5)).y1((d) => y(d[1]))(data) || "";
  const cp = `p${idx}`, ch = `h${idx}`, cl = `l${idx}`;
  // keep the fills off the half-covered pixel rows at the band edges
  const hiEdge = y(0.5) - 0.6;
  const loEdge = y(-0.5) + 0.6;

  return (
    <g transform={`translate(0,${top})`}>
      <defs>
        <clipPath id={cp}>
          <rect x={LEFT} y={0} width={RIGHT - LEFT} height={PLOT_H} />
        </clipPath>
        <clipPath id={ch}>
          <rect x={LEFT} y={0} width={RIGHT - LEFT} height={hiEdge} />
        </clipPath>
        <clipPath id={cl}>
          <rect x={LEFT} y={loEdge} width={RIGHT - LEFT} height={PLOT_H - loEdge} />
        </clipPath>
      </defs>

      <text x={(LEFT + RIGHT) / 2} y={-10} textAnchor="middle" fontFamily={FONT}
        fontSize={34} textLength={RIGHT - LEFT} lengthAdjust="spacing" fill="#000">
        {`Standardized Precipitation Index for ${scale} month`}
      </text>

      <rect x={xa} y={0} width={xb - xa} height={PLOT_H} fill="#87ceeb" />
      <rect x={xa} y={y(0.5)} width={xb - xa} height={y(-0.5) - y(0.5)} fill="#fff" />

      <g clipPath={`url(#${cp})`}>
        <path d={hi} fill="#1a3bff" clipPath={`url(#${ch})`} />
        <path d={lo} fill="#ff3b3b" clipPath={`url(#${cl})`} />
        <line x1={LEFT} x2={RIGHT} y1={y(0)} y2={y(0)} stroke="#777" strokeWidth={1} strokeDasharray="5,4" />
        <path d={line} fill="none" stroke="#666" strokeWidth={0.9} />
        <g clipPath={`url(#${ch})`}>
          <path d={line} fill="none" stroke="#111" strokeWidth={0.9} />
        </g>
        <g clipPath={`url(#${cl})`}>
          <path d={line} fill="none" stroke="#111" strokeWidth={0.9} />
        </g>
        {xTicks.map((t) => (
          <line key={t} x1={x(t)} x2={x(t)} y1={0} y2={PLOT_H} stroke="#111" strokeWidth={1.4} strokeDasharray="4,3" />
        ))}
      </g>

      <rect x={LEFT} y={0} width={RIGHT - LEFT} height={PLOT_H} fill="none" stroke="#222" strokeWidth={1.6} />

      {yTicks.map((t) => (
        <g key={t}>
          <line x1={LEFT - 5} x2={LEFT} y1={y(t)} y2={y(t)} stroke="#222" strokeWidth={1.2} />
          <text x={LEFT - 9} y={y(t)} dy="0.36em" textAnchor="end" fontFamily={FONT} fontSize={18.5} fill="#000">
            {String(t)}
          </text>
        </g>
      ))}
      {xTicks.map((t) => (
        <g key={t}>
          <line x1={x(t)} x2={x(t)} y1={PLOT_H} y2={PLOT_H + 5} stroke="#222" strokeWidth={1.2} />
          <text x={x(t)} y={PLOT_H + 25} textAnchor="middle" fontFamily={FONT} fontSize={19} fill="#000">
            {t}
          </text>
        </g>
      ))}

      <text transform={`translate(27,${PLOT_H / 2}) rotate(-90)`} textAnchor="middle" dy="0.36em"
        fontFamily={FONT} fontSize={33} fill="#000">
        SPI
      </text>
    </g>
  );
}

export default function App() {
  return (
    <svg width={1040} height={1440} style={{ position: "absolute", left: 0, top: 0, background: "#fff" }}>
      <rect x={0} y={0} width={1040} height={3} fill="#c9d6f2" />
      {allSeries.map((s, i) => (
        <Panel key={i} idx={i} data={s} scale={timescales[i]} />
      ))}
    </svg>
  );
}
